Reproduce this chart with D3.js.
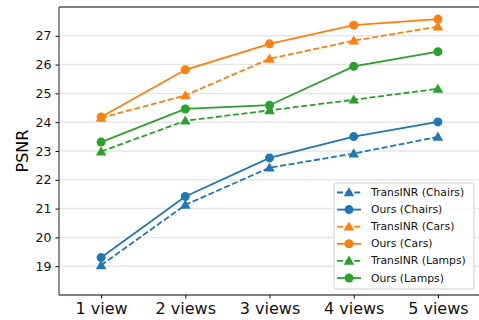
<!DOCTYPE html>
<html>
<head>
<meta charset="utf-8">
<script src="https://cdn.jsdelivr.net/npm/d3@7"></script>
<style>
  body { margin: 0; background: #fff; }
  svg text { font-family: "DejaVu Sans", "Verdana", sans-serif; }
</style>
</head>
<body>
<div class="canvas"></div>
<script>
// data
const views = ["1 view", "2 views", "3 views", "4 views", "5 views"];
const yTicks = [19, 20, 21, 22, 23, 24, 25, 26, 27];

const transChairs = [19.03, 21.13, 22.42, 22.91, 23.49];
const oursChairs  = [19.30, 21.42, 22.76, 23.50, 24.01];
const transCars   = [24.15, 24.93, 26.20, 26.83, 27.32];
const oursCars    = [24.18, 25.82, 26.72, 27.37, 27.58];
const transLamps  = [22.98, 24.05, 24.41, 24.78, 25.16];
const oursLamps   = [23.31, 24.46, 24.59, 25.94, 26.45];

const seriesNames = ["TransINR (Chairs)", "Ours (Chairs)", "TransINR (Cars)", "Ours (Cars)", "TransINR (Lamps)", "Ours (Lamps)"];
const seriesValues = [transChairs, oursChairs, transCars, oursCars, transLamps, oursLamps];
const seriesColors = ["#1f77b4", "#1f77b4", "#ff7f0e", "#ff7f0e", "#2ca02c", "#2ca02c"];
const seriesDashed = [true, false, true, false, true, false];

const series = seriesNames.map((name, i) => ({
  name: name,
  values: seriesValues[i],
  color: seriesColors[i],
  dashed: seriesDashed[i]
}));

const font = '"DejaVu Sans", Verdana, sans-serif';
const svgWidth = 479, svgHeight = 320;
const margin = { top: 7, right: -1, bottom: 25, left: 59 };
const graphWidth = svgWidth - margin.left - margin.right;
const graphHeight = svgHeight - margin.top - margin.bottom;

const svg = d3.select('.canvas').append('svg')
  .attr("width", svgWidth)
  .attr("height", svgHeight)
  .style("display", "block");

const graph = svg.append('g')
  .attr("transform", `translate(${margin.left} ${margin.top})`);

const xScale = d3.scalePoint()
  .domain(views)
  .range([0, graphWidth])
  .padding(0.5);

const yScale = d3.scaleLinear()
  .domain([18, 28])
  .range([graphHeight, 0]);

// grid lines
graph.append('g')
  .selectAll('line')
  .data(yTicks)
  .enter().append('line')
  .attr("x1", 0)
  .attr("x2", graphWidth)
  .attr("y1", d => yScale(d))
  .attr("y2", d => yScale(d))
  .attr("stroke", "#e6e6e6")
  .attr("stroke-width", 1.5);

// axes
const xAxis = d3.axisBottom(xScale).tickSize(3.5).tickPadding(4);
const yAxis = d3.axisLeft(yScale).tickValues(yTicks).tickSize(3.5).tickPadding(4);

const xAxisGroup = graph.append('g')
  .attr("transform", `translate(0 ${graphHeight})`)
  .call(xAxis)
  .attr("font-family", font);
xAxisGroup.select('.domain').remove();
xAxisGroup.selectAll('text')
  .style("font-family", font)
  .style("font-size", "16px")
  .attr("fill", "#111");
xAxisGroup.selectAll('line').attr("stroke", "#000");

const yAxisGroup = graph.append('g')
  .call(yAxis)
  .attr("font-family", font);
yAxisGroup.select('.domain').remove();
yAxisGroup.selectAll('text')
  .style("font-family", font)
  .style("font-size", "12.5px")
  .attr("fill", "#111");
yAxisGroup.selectAll('line').attr("stroke", "#000");

// spines
graph.append('line')
  .attr("x1", 0).attr("x2", graphWidth)
  .attr("y1", 0).attr("y2", 0)
  .attr("stroke", "#000").attr("stroke-width", 1);
graph.append('line')
  .attr("x1", 0).attr("x2", graphWidth)
  .attr("y1", graphHeight).attr("y2", graphHeight)
  .attr("stroke", "#000").attr("stroke-width", 1);
graph.append('line')
  .attr("x1", 0).attr("x2", 0)
  .attr("y1", 0).attr("y2", graphHeight)
  .attr("stroke", "#444").attr("stroke-width", 1.2);

// y label
svg.append('text')
  .attr("transform", `translate(22 ${margin.top + yScale(23)}) rotate(-90)`)
  .attr("text-anchor", "middle")
  .attr("dominant-baseline", "central")
  .style("font-family", font)
  .style("font-size", "16px")
  .text("PSNR");

const line = d3.line()
  .x((d, i) => xScale(views[i]))
  .y(d => yScale(d));

const triangle = d3.symbol().type(d3.symbolTriangle).size(48);

function drawMarker(g, s, x, y) {
  if (s.dashed) {
    g.append('path')
      .attr("d", triangle())
      .attr("transform", `translate(${x} ${y + 0.8})`)
      .attr("fill", s.color);
  } else {
    g.append('circle')
      .attr("cx", x).attr("cy", y)
      .attr("r", 4.5)
      .attr("fill", s.color);
  }
}

series.forEach(s => {
  const g = graph.append('g');
  g.append('path')
    .datum(s.values)
    .attr("d", line)
    .attr("fill", "none")
    .attr("stroke", s.color)
    .attr("stroke-width", 1.8)
    .attr("stroke-dasharray", s.dashed ? "6,2.6" : null);
  s.values.forEach((v, i) => drawMarker(g, s, xScale(views[i]), yScale(v)));
});

// legend
const legendX = 334, legendY = 183, rowH = 17.1;
const legendGroup = svg.append('g');
legendGroup.append('rect')
  .attr("x", legendX)
  .attr("y", legendY)
  .attr("width", 140)
  .attr("height", 106)
  .attr("rx", 2.5)
  .attr("fill", "#fff")
  .attr("fill-opacity", 0.8)
  .attr("stroke", "#d0d0d0")
  .attr("stroke-width", 1);

series.forEach((s, i) => {
  const y = legendY + 9.5 + i * rowH;
  const g = legendGroup.append('g');
  g.append('line')
    .attr("x1", legendX + 3).attr("x2", legendX + 27)
    .attr("y1", y).attr("y2", y)
    .attr("stroke", s.color)
    .attr("stroke-width", 1.8)
    .attr("stroke-dasharray", s.dashed ? "6,2.6" : null);
  drawMarker(g, s, legendX + 15, y);
  g.append('text')
    .attr("x", legendX + 37)
    .attr("y", y)
    .attr("dominant-baseline", "central")
    .style("font-family", font)
    .style("font-size", "10.8px")
    .attr("fill", "#111")
    .text(s.name);
});
</script>
</body>
</html>
